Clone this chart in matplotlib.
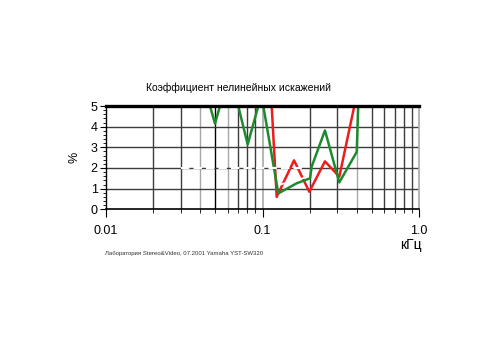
import matplotlib
matplotlib.use("Agg")
import matplotlib.pyplot as plt
from matplotlib.ticker import FixedLocator, NullFormatter, MultipleLocator

plt.rcParams['font.family'] = ['Liberation Sans', 'DejaVu Sans']

title = "Коэффициент нелинейных искажений"
caption = "Лаборатория Stereo&Video, 07.2001 Yamaha YST-SW320"
xunit = "кГц"
ylab = "%"

green_f = [0.0462, 0.0497, 0.0535, 0.0700, 0.0804, 0.0940, 0.1012, 0.1262, 0.1654, 0.2012, 0.2063, 0.2507, 0.3095, 0.400, 0.409]
green_v = [5.0, 4.15, 5.0, 5.0, 3.14, 5.0, 5.0, 0.77, 1.26, 1.5, 2.07, 3.82, 1.3, 2.78, 5.0]

red_f = [0.1145, 0.1232, 0.1590, 0.1991, 0.2506, 0.3097, 0.386]
red_v = [5.0, 0.6, 2.37, 0.85, 2.32, 1.58, 5.0]

major_x = [0.01, 0.1, 1.0]
major_x_labels = ["0.01", "0.1", "1.0"]
yticks = [0, 1, 2, 3, 4, 5]

fig = plt.figure(figsize=(5, 3.5), dpi=100)
ax = fig.add_axes([0.212, 0.402, 0.626, 0.295])
ax.set_xscale('log')
ax.set_xlim(0.01, 1.0)
ax.set_ylim(0, 5)

# vertical grid lines
dark = '#3c3c3c'
light = '#a8a8a8'
for dec in [0.01, 0.1]:
    for m in range(2, 10):
        x = dec * m
        if dec == 0.01 and m == 5:
            c = 'black'
        elif (dec == 0.01 and m in (4, 6)) or (dec == 0.1 and m == 4):
            c = light
        else:
            c = dark
        ax.axvline(x, color=c, lw=1.0, zorder=1)
ax.axvline(0.1, color=light, lw=1.2, zorder=1)
for y in yticks[1:5]:
    ax.axhline(y, color=dark, lw=1.0, zorder=1)

ax.plot(green_f, green_v, color='#1e8a2e', lw=1.8, zorder=3, clip_on=True)
ax.plot(red_f, red_v, color='#ee1c1c', lw=1.8, zorder=2, clip_on=True)

# white watermark overlay
ax.plot([0.03, 0.19], [2, 2], color='white', lw=1.5, ls=(0, (4, 2)), zorder=4)
ax.plot([0.13, 0.19], [1.2, 1.55], color='white', lw=1.2, ls=(0, (3, 3)), zorder=4)

ax.set_yticks(yticks)
ax.yaxis.set_minor_locator(MultipleLocator(0.2))
ax.tick_params(axis='y', which='major', length=4, labelsize=9, pad=2)
ax.tick_params(axis='y', which='minor', length=2)
ax.xaxis.set_major_locator(FixedLocator(major_x))
ax.set_xticklabels(major_x_labels)
ax.xaxis.set_minor_formatter(NullFormatter())
ax.tick_params(axis='x', which='major', length=6, labelsize=9, pad=5)
ax.tick_params(axis='x', which='minor', length=3)

for s in ax.spines.values():
    s.set_zorder(6)
ax.spines['top'].set_linewidth(2.4)
ax.spines['right'].set_color(light)
ax.spines['right'].set_linewidth(1.2)
ax.spines['left'].set_linewidth(1.0)
ax.spines['bottom'].set_linewidth(1.2)

fig.text(0.476, 0.748, title, ha='center', va='center', fontsize=7.5)
fig.text(0.148, 0.55, ylab, ha='center', va='center', rotation=90, fontsize=9)
fig.text(0.822, 0.3, xunit, ha='center', va='center', fontsize=10)
fig.text(0.21, 0.277, caption, ha='left', va='center', fontsize=4.3, color='#333333')

fig.savefig('out.png', dpi=100)
